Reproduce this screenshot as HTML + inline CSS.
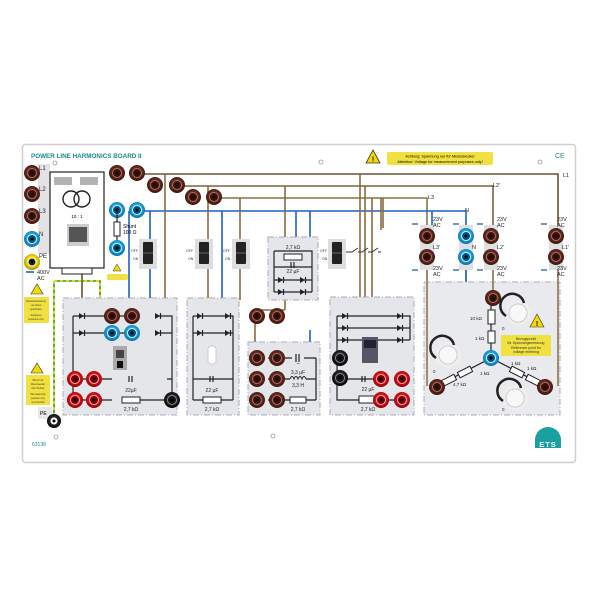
<!DOCTYPE html>
<html><head><meta charset="utf-8"><style>
html,body{margin:0;padding:0;background:#fff;width:600px;height:600px;overflow:hidden}
svg{display:block}
text{font-family:"Liberation Sans",sans-serif}
</style></head><body>
<svg width="600" height="600" viewBox="0 0 600 600" xmlns="http://www.w3.org/2000/svg">
<defs>
<radialGradient id="br" cx="50%" cy="45%" r="55%"><stop offset="0" stop-color="#a06050"/><stop offset="0.5" stop-color="#6a2e22"/><stop offset="1" stop-color="#3a140e"/></radialGradient>
<radialGradient id="bl" cx="50%" cy="45%" r="55%"><stop offset="0" stop-color="#8fe0ff"/><stop offset="0.6" stop-color="#1aa4e0"/><stop offset="1" stop-color="#0c6aa0"/></radialGradient>
<radialGradient id="rd" cx="50%" cy="45%" r="55%"><stop offset="0" stop-color="#ff7070"/><stop offset="0.6" stop-color="#e01018"/><stop offset="1" stop-color="#8a0008"/></radialGradient>
<radialGradient id="bk" cx="50%" cy="45%" r="55%"><stop offset="0" stop-color="#666"/><stop offset="0.6" stop-color="#222"/><stop offset="1" stop-color="#000"/></radialGradient>
<radialGradient id="ye" cx="50%" cy="45%" r="55%"><stop offset="0" stop-color="#ffff80"/><stop offset="0.6" stop-color="#e8d800"/><stop offset="1" stop-color="#a09000"/></radialGradient>
<g id="sb"><circle r="8" fill="url(#br)"/><circle r="4.5" fill="#3a1008" stroke="#b07060" stroke-width="1"/><circle r="1.6" fill="#111"/></g>
<g id="sl"><circle r="8" fill="url(#bl)"/><circle r="4.5" fill="#0a4d80" stroke="#cff" stroke-width="1"/><circle r="1.6" fill="#012"/></g>
<g id="sr"><circle r="8" fill="url(#rd)"/><circle r="4.5" fill="#7a0008" stroke="#ffb0b0" stroke-width="1"/><circle r="1.6" fill="#200"/></g>
<g id="sk"><circle r="8" fill="url(#bk)"/><circle r="4.5" fill="#111" stroke="#888" stroke-width="1"/><circle r="1.6" fill="#000"/></g>
<g id="di"><polygon points="-3,-3 -3,3 2,0" fill="#222"/><line x1="2.5" y1="-3" x2="2.5" y2="3" stroke="#222" stroke-width="1.2"/></g>
<g id="sw"><rect x="-9" y="-14" width="18" height="30" fill="#ddd"/><rect x="-5" y="-11" width="10" height="22" fill="#222" rx="1"/><line x1="-5" y1="0" x2="5" y2="0" stroke="#666"/></g>
<g id="knob"><circle r="13" fill="#eee"/><path d="M-12,3 A12,12 0 1 1 6,-10" fill="none" stroke="#222" stroke-width="2.5"/><circle r="9" fill="#fff" stroke="#ccc"/><circle r="8" fill="#f8f8f8"/></g>
</defs>
<rect width="600" height="600" fill="#fff"/>
<rect x="22.5" y="144.5" width="553" height="318" rx="3" fill="#fff" stroke="#cfcfcf" stroke-width="1.5"/>
<text x="31" y="158" font-size="6.3" font-weight="bold" fill="#1a8a8a">POWER LINE HARMONICS BOARD II</text>
<text x="555" y="158" font-size="7" fill="#1a8a8a">CE</text>
<!-- top warning -->
<polygon points="373,150 380,163 366,163" fill="#f5d800" stroke="#333" stroke-width="0.8"/>
<text x="373" y="161.5" font-size="7" text-anchor="middle" font-weight="bold">!</text>
<rect x="387" y="152" width="106" height="13" rx="2" fill="#f0e040"/>
<text x="440" y="157.5" font-size="3.8" text-anchor="middle">Achtung: Spannung nur für Messzwecke!</text>
<text x="440" y="163" font-size="3.8" text-anchor="middle">Attention: Voltage for measurement purposes only!</text>
<!-- screws -->
<g fill="#fff" stroke="#999" stroke-width="0.8"><circle cx="55" cy="163" r="2"/><circle cx="321" cy="162" r="2"/><circle cx="540" cy="162" r="2"/><circle cx="56" cy="437" r="2"/><circle cx="273" cy="436" r="2"/></g>
<!-- left label strip -->
<rect x="38" y="164" width="12" height="90" fill="#e3e3e6"/>
<g font-size="6" fill="#222"><text x="39" y="170">L1</text><text x="39" y="191">L2</text><text x="39" y="213">L3</text><text x="39" y="236">N</text><text x="39" y="258">PE</text></g>
<text x="37" y="274" font-size="5.5" fill="#222">400V</text><text x="37" y="280" font-size="5.5" fill="#222">AC</text>
<path d="M26,272 h8" stroke="#1a5aa0" stroke-width="1.5"/>
<!-- wires main -->
<g fill="none" stroke-width="1.6">
<path d="M137,174 H558 V228" stroke="#6b5030"/>
<path d="M177,186 H493 V228" stroke="#7a6440"/>
<path d="M214,198 H427 V228" stroke="#8a7448"/>
<path d="M137,211 H466 V228" stroke="#1e60c0"/>
<path d="M427,265 V300 M558,265 V300 M493,265 V290" stroke="#8a6a40"/>
<path d="M466,265 V300 L490,358" stroke="#1e50a0"/>
<path d="M82,318 V190" stroke="#6b5030"/>
<path d="M95,174 V172" stroke="#6b5030"/>
<path d="M150,300 V211" stroke="#1e60c0"/>
<path d="M129,318 V211" stroke="#1e60c0"/>
<path d="M165,173 V300" stroke="#8a6a40"/>
<path d="M208,186 V300" stroke="#8a6a40"/>
<path d="M222,298 V211" stroke="#1e60c0"/>
<path d="M240,198 V300" stroke="#8a6a40"/>
<path d="M285,186 V310 M255,342 V310 H285" stroke="#8a6a40"/>
<path d="M296,211 V300 M310,211 V300 M310,330 V412" stroke="#1e60c0"/>
<path d="M360,174 V320 M365,186 V320 M372,198 V320 M381,198 V230" stroke="#8a6a40"/>
<path d="M383,198 V228" stroke="#8a6a40"/>
<path d="M432,211 V228" stroke="#1e60c0"/>
</g>
<!-- transformer -->
<rect x="50" y="172" width="54" height="96" fill="#fff" stroke="#222" stroke-width="1.2"/>
<rect x="62" y="268" width="30" height="6" fill="#fff" stroke="#222"/>
<g stroke="#333" stroke-width="0.7"><path d="M54,178h18M54,180h18M54,182h18M54,184h18M80,178h18M80,180h18M80,182h18M80,184h18"/></g>
<circle cx="71" cy="199" r="8" fill="none" stroke="#222" stroke-width="1.4"/><circle cx="82" cy="199" r="8" fill="none" stroke="#222" stroke-width="1.4"/>
<text x="77" y="218" font-size="4.5" text-anchor="middle">10 : 1</text>
<rect x="67" y="224" width="22" height="22" fill="#ccc"/><rect x="69" y="227" width="18" height="15" fill="#555"/>
<!-- yellow-green dashed PE -->
<path d="M54,281 H100 V300 M54,281 V415" fill="none" stroke="#2a9a2a" stroke-width="1.6"/>
<path d="M54,281 H100 V300 M54,281 V415" fill="none" stroke="#f0e000" stroke-width="1.6" stroke-dasharray="3,3"/>
<!-- left sockets -->
<use href="#sb" x="32" y="173"/><use href="#sb" x="32" y="194"/><use href="#sb" x="32" y="216"/><use href="#sl" x="32" y="239"/><use href="#ye" x="0" y="0"/>
<circle cx="32" cy="262" r="8" fill="url(#ye)"/><circle cx="32" cy="262" r="4" fill="#222" stroke="#ffe" /><circle cx="32" cy="262" r="1.5" fill="#000"/>
<!-- warning labels left -->
<polygon points="37,284 43,294 31,294" fill="#f5d800" stroke="#333" stroke-width="0.6"/>
<rect x="24" y="297" width="25" height="26" fill="#f0e040"/>
<polygon points="37,363 43,373 31,373" fill="#f5d800" stroke="#333" stroke-width="0.6"/>
<rect x="26" y="375" width="24" height="30" fill="#f0e040"/>
<g font-size="2.4" fill="#333" text-anchor="middle"><text x="36" y="302">Betriebsspannung</text><text x="36" y="306">nur durch</text><text x="36" y="310">geschultes</text><text x="36" y="316">Setting-up</text><text x="36" y="320">personnel only</text>
<text x="38" y="381">PE nur für</text><text x="38" y="385">Messzwecke!</text><text x="38" y="389">Kein Schutz</text><text x="38" y="395">PE measuring</text><text x="38" y="399">purpose only</text><text x="38" y="403">no protection</text></g>
<rect x="38" y="407" width="14" height="12" fill="#e8e8e8"/><text x="40" y="415" font-size="5">PE</text>
<circle cx="54" cy="421" r="7" fill="url(#bk)"/><circle cx="54" cy="421" r="3.5" fill="#fff"/><circle cx="54" cy="421" r="1.5" fill="#000"/>
<text x="32" y="446" font-size="5" fill="#1a8a8a">63138</text>
<!-- top socket pairs -->
<use href="#sb" x="117" y="173"/><use href="#sb" x="137" y="173"/>
<use href="#sb" x="155" y="185"/><use href="#sb" x="177" y="185"/>
<use href="#sb" x="193" y="197"/><use href="#sb" x="214" y="197"/>
<use href="#sl" x="117" y="210"/><use href="#sl" x="137" y="210"/>
<path d="M117,210 V248" stroke="#222" stroke-width="1.2"/>
<rect x="114" y="222" width="6" height="14" fill="#fff" stroke="#222"/>
<text x="123" y="228" font-size="5">Shunt</text><text x="123" y="234" font-size="5">100 Ω</text>
<use href="#sl" x="117" y="248"/>
<polygon points="117,264 121,271 113,271" fill="#f5d800" stroke="#333" stroke-width="0.5"/>
<rect x="107" y="274" width="21" height="6" rx="2" fill="#f0e040"/>
<!-- switches -->
<use href="#sw" x="148" y="253"/><use href="#sw" x="204" y="253"/><use href="#sw" x="241" y="253"/><use href="#sw" x="337" y="253"/>
<g font-size="3.5" fill="#333"><text x="131" y="252">OFF</text><text x="133" y="260">ON</text><text x="186" y="252">OFF</text><text x="188" y="260">ON</text><text x="223" y="252">OFF</text><text x="225" y="260">ON</text><text x="320" y="252">OFF</text><text x="322" y="260">ON</text></g>
<path d="M346,252 h6 l6,-4 M358,252 h4 l6,-4 M368,252 h4 l6,-4 M378,252 h3" stroke="#333" fill="none"/>
<!-- panels -->
<g fill="#e4e6ea" stroke="#aab" stroke-dasharray="6,2,1,2" stroke-width="1">
<rect x="63" y="298" width="114" height="117"/>
<rect x="187" y="298" width="52" height="117"/>
<rect x="268" y="237" width="50" height="63"/>
<rect x="248" y="342" width="72" height="73"/>
<rect x="330" y="297" width="84" height="118"/>
<rect x="424" y="282" width="136" height="133" fill="#e9eaed"/>
</g>
<!-- panel1 circuit -->
<g fill="none" stroke="#222" stroke-width="1.2">
<path d="M73,316 H172 V400 M73,316 V400 M73,333 H172 M73,379 H172 M73,400 H165"/>
<path d="M193,316 H233 V400 M193,316 V400 M193,333 H233 M193,379 H233 M193,400 H233"/>
<path d="M274,251 H312 V292 M274,251 V292 M274,267 H312 M274,280 H312 M274,292 H312"/>
<path d="M337,316 H410 V340 M337,316 V400 H410 M337,328 H410 M337,340 H410 M337,379 H380"/>
</g>
<g fill="#e4e6ea"><rect x="125" y="310" width="30" height="12"/><rect x="125" y="327" width="30" height="12"/><rect x="112" y="374" width="55" height="10"/><rect x="112" y="395" width="20" height="10"/></g>
<use href="#di" x="82" y="316"/><use href="#di" x="82" y="333"/><use href="#di" x="158" y="316"/><use href="#di" x="158" y="333"/>
<use href="#di" x="200" y="316"/><use href="#di" x="200" y="333"/><use href="#di" x="228" y="316"/><use href="#di" x="228" y="333"/>
<use href="#di" x="281" y="280"/><use href="#di" x="281" y="292"/><use href="#di" x="303" y="280"/><use href="#di" x="303" y="292"/>
<use href="#di" x="345" y="316"/><use href="#di" x="345" y="328"/><use href="#di" x="345" y="340"/><use href="#di" x="400" y="316"/><use href="#di" x="400" y="328"/><use href="#di" x="400" y="340"/>
<use href="#sb" x="112" y="316"/><use href="#sb" x="132" y="316"/><use href="#sl" x="112" y="333"/><use href="#sl" x="132" y="333"/>
<use href="#sr" x="75" y="379"/><use href="#sr" x="94" y="379"/><use href="#sr" x="75" y="400"/><use href="#sr" x="94" y="400"/>
<use href="#sk" x="172" y="400"/>
<rect x="113" y="346" width="14" height="24" fill="#aaa"/><rect x="116" y="350" width="8" height="8" fill="#444"/><rect x="117" y="361" width="6" height="7" fill="#111"/>
<path d="M129,376 v6 M132,376 v6" stroke="#222" stroke-width="1.2"/>
<rect x="122" y="397" width="18" height="6" fill="#fff" stroke="#222"/>
<g font-size="5" text-anchor="middle" fill="#222"><text x="131" y="392">22µF</text><text x="131" y="411">2,7 kΩ</text><text x="212" y="392">22 µF</text><text x="212" y="411">2,7 kΩ</text>
<text x="293" y="249">2,7 kΩ</text><text x="293" y="273">22 µF</text><text x="298" y="364">C</text><text x="298" y="374">3,3 µF</text><text x="298" y="387">3,3 H</text><text x="298" y="411">2,7 kΩ</text><text x="368" y="391">22 µF</text><text x="368" y="411">2,7 kΩ</text></g>
<rect x="208" y="346" width="8" height="18" rx="3" fill="#fff" stroke="#ccc"/>
<path d="M210,376 v6 M213,376 v6" stroke="#222" stroke-width="1.2"/>
<rect x="203" y="397" width="18" height="6" fill="#fff" stroke="#222"/>
<rect x="284" y="254" width="18" height="6" fill="#fff" stroke="#222"/>
<path d="M291,262 v6 M294,262 v6" stroke="#222" stroke-width="1.2"/>
<!-- panel3 bottom -->
<g fill="none" stroke="#222" stroke-width="1.2"><path d="M268,358 H316 M268,379 H316 M268,400 H316 M316,358 V400"/></g>
<rect x="283" y="315" width="0" height="0"/>
<use href="#sb" x="257" y="316"/><use href="#sb" x="277" y="316"/>
<use href="#sb" x="257" y="358"/><use href="#sb" x="277" y="358"/><use href="#sb" x="257" y="379"/><use href="#sb" x="277" y="379"/><use href="#sb" x="257" y="400"/><use href="#sb" x="277" y="400"/>
<rect x="292" y="354" width="12" height="9" fill="#e4e6ea"/><path d="M296,354 v8 M299,354 v8" stroke="#222" stroke-width="1.2"/>
<rect x="290" y="375" width="16" height="7" fill="#e4e6ea"/><path d="M290,379 q2,-5 4,0 q2,-5 4,0 q2,-5 4,0 q2,-5 4,0" fill="none" stroke="#222"/>
<rect x="290" y="397" width="16" height="6" fill="#fff" stroke="#222"/>
<!-- panel4 -->
<use href="#sk" x="340" y="358"/><use href="#sk" x="340" y="378"/>
<rect x="362" y="337" width="16" height="26" fill="#556"/><rect x="364" y="340" width="12" height="8" fill="#223"/>
<path d="M362,376 v6 M365,376 v6" stroke="#222" stroke-width="1.2"/>
<rect x="359" y="396" width="16" height="7" fill="#fff" stroke="#222"/>
<use href="#sr" x="381" y="379"/><use href="#sr" x="402" y="379"/><use href="#sr" x="381" y="400"/><use href="#sr" x="402" y="400"/>
<!-- right sockets -->
<g fill="#e0e0e3"><rect x="420" y="225" width="14" height="45"/><rect x="459" y="225" width="14" height="45"/><rect x="484" y="225" width="14" height="45"/><rect x="549" y="225" width="14" height="45"/></g>
<use href="#sb" x="427" y="236"/><use href="#sb" x="427" y="257"/><use href="#sl" x="466" y="236"/><use href="#sl" x="466" y="257"/>
<use href="#sb" x="491" y="236"/><use href="#sb" x="491" y="257"/><use href="#sb" x="556" y="236"/><use href="#sb" x="556" y="257"/>
<g font-size="5.5" fill="#222"><text x="563" y="177">L1</text><text x="493" y="187">L2'</text><text x="428" y="199">L3</text><text x="465" y="212">N</text>
<text x="433" y="249">L3'</text><text x="472" y="249">N</text><text x="497" y="249">L2'</text><text x="562" y="249">L1'</text>
<text x="433" y="221">23V</text><text x="433" y="227">AC</text><text x="497" y="221">23V</text><text x="497" y="227">AC</text><text x="557" y="221">23V</text><text x="557" y="227">AC</text>
<text x="433" y="270">23V</text><text x="433" y="276">AC</text><text x="497" y="270">23V</text><text x="497" y="276">AC</text><text x="557" y="270">23V</text><text x="557" y="276">AC</text></g>
<g stroke="#1a5aa0" stroke-width="1.3"><path d="M412,224 h6 M453,224 h6 M477,224 h6 M541,224 h6 M412,270 h6 M453,270 h6 M477,270 h6 M541,270 h6"/></g>
<!-- panel5 -->
<g fill="none" stroke="#8a6a40" stroke-width="1.5"><path d="M427,282 V386 M558,282 V386 M493,282 V300"/></g>
<g fill="none" stroke="#222" stroke-width="1.2"><path d="M491,300 V358 L437,386 M491,358 L545,386"/></g>
<rect x="488" y="310" width="7" height="14" fill="#fff" stroke="#222"/><rect x="488" y="331" width="7" height="12" fill="#fff" stroke="#222"/>
<g transform="rotate(-27 465 372)"><rect x="458" y="369" width="14" height="6" fill="#fff" stroke="#222"/><rect x="440" y="369" width="14" height="6" fill="#fff" stroke="#222"/></g>
<g transform="rotate(27 517 372)"><rect x="510" y="369" width="14" height="6" fill="#fff" stroke="#222"/><rect x="528" y="369" width="14" height="6" fill="#fff" stroke="#222"/></g>
<use href="#sb" x="493" y="298"/><use href="#sl" x="491" y="358"/><use href="#sb" x="437" y="387"/><use href="#sb" x="545" y="387"/>
<use href="#knob" x="518" y="313"/><use href="#knob" x="448" y="355"/><use href="#knob" x="515" y="398"/>
<g font-size="4.5" fill="#222"><text x="470" y="320">10 kΩ</text><text x="475" y="340">1 kΩ</text><text x="480" y="375">1 kΩ</text><text x="453" y="386">4,7 kΩ</text><text x="511" y="365">1 kΩ</text><text x="527" y="370">1 kΩ</text><text x="502" y="330">0</text><text x="433" y="373">0</text><text x="502" y="411">0</text></g>
<polygon points="537,314 544,327 530,327" fill="#f5d800" stroke="#333" stroke-width="0.6"/>
<text x="537" y="326" font-size="7" text-anchor="middle" font-weight="bold">!</text>
<rect x="501" y="335" width="50" height="21" fill="#f0e040"/>
<g font-size="3.5" text-anchor="middle" fill="#333"><text x="526" y="340">Bezugspunkt</text><text x="526" y="344">für Spannungsmessung</text><text x="526" y="349">Reference point for</text><text x="526" y="353">voltage metering</text></g>
<!-- ETS logo -->
<path d="M535,440 A13,13 0 0 1 561,440 Z" fill="#1aa0a0"/>
<rect x="535" y="440" width="26" height="8" fill="#1aa0a0"/>
<text x="548" y="447" font-size="7.5" font-weight="bold" fill="#fff" text-anchor="middle" letter-spacing="1">ETS</text>
</svg>
</body></html>
